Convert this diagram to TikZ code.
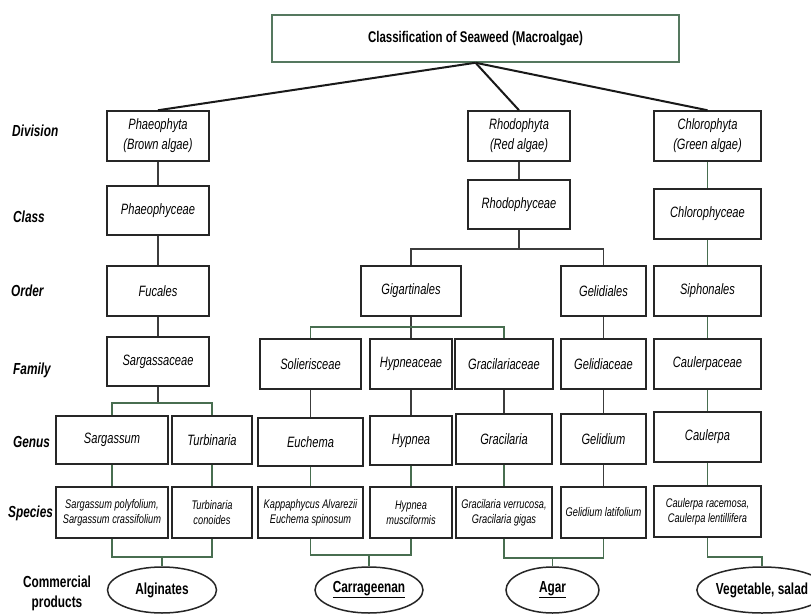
\documentclass[tikz,border=0pt]{standalone}
\usepackage{fontspec}
\setmainfont{Liberation Sans}[FakeStretch=0.74]
\usetikzlibrary{shapes.geometric,shadows}
\definecolor{linkgreen}{RGB}{72,110,80}
\definecolor{linkgray}{RGB}{60,60,60}
\definecolor{titleframe}{RGB}{85,120,95}

\begin{document}
\begin{tikzpicture}[x=1pt, y=-1pt,
    taxon/.style={draw=black!85, fill=white, line width=1.5pt, inner sep=0pt, align=center,
        minimum height=50pt, font=\fontsize{15}{20}\selectfont\itshape,
        drop shadow={shadow xshift=1.2pt, shadow yshift=-1.2pt, fill=black!40, opacity=1}},
    sppbox/.style={taxon, minimum height=51pt, font=\fontsize{12.5}{15}\selectfont\itshape},
    rank/.style={anchor=west, inner sep=0pt, font=\fontsize{16}{20}\selectfont\bfseries\itshape},
    product/.style={ellipse, draw=black!85, line width=1.5pt, inner sep=0pt,
        minimum height=46pt, font=\fontsize{16}{20}\selectfont\bfseries},
    link/.style={draw=linkgray, line width=1.2pt},
    greenlink/.style={draw=linkgreen, line width=1.2pt},
    trunk/.style={draw=black!90, line width=2pt}]

\path[use as bounding box, fill=white] (0,0) rectangle (811,613);

\node[draw=titleframe, line width=1.5pt, minimum width=407pt, minimum height=47pt,
    font=\fontsize{15.5}{18}\selectfont\bfseries] (seaweed) at (475.5,38.5)
    {Classification of Seaweed (Macroalgae)};

\node[rank] (rdivision) at (12,131) {Division};
\node[rank] (rclass) at (13,217) {Class};
\node[rank] (rorder) at (11,291) {Order};
\node[rank] (rfamily) at (13,370) {Family};
\node[rank] (rgenus) at (13,442) {Genus};
\node[rank] (rspecies) at (8,513) {Species};
\node[rank, anchor=center, align=center, font=\fontsize{16}{20}\selectfont\bfseries]
    (rproducts) at (57,593) {Commercial\\products};

\node[taxon, minimum width=102pt] (phaeophyta) at (158,136) {Phaeophyta\\(Brown algae)};
\node[taxon, minimum width=102pt] (rhodophyta) at (519,136) {Rhodophyta\\(Red algae)};
\node[taxon, minimum width=107pt] (chlorophyta) at (707.5,136) {Chlorophyta\\(Green algae)};

\node[taxon, minimum width=102pt, minimum height=49pt] (phaeophyceae) at (158,210.5) {Phaeophyceae};
\node[taxon, minimum width=102pt, minimum height=49pt] (rhodophyceae) at (519,204.5) {Rhodophyceae};
\node[taxon, minimum width=107pt] (chlorophyceae) at (707.5,214) {Chlorophyceae};

\node[taxon, minimum width=102pt] (fucales) at (158,291) {Fucales};
\node[taxon, minimum width=100pt] (gigartinales) at (411,291) {Gigartinales};
\node[taxon, minimum width=85pt] (gelidiales) at (603.5,291) {Gelidiales};
\node[taxon, minimum width=107pt] (siphonales) at (707.5,291) {Siphonales};

\node[taxon, minimum width=102pt, minimum height=49pt] (sargassaceae) at (158,361.5) {Sargassaceae};
\node[taxon, minimum width=101pt] (solierisceae) at (310.5,364) {Solierisceae};
\node[taxon, minimum width=82pt] (hypneaceae) at (411,364) {Hypneaceae};
\node[taxon, minimum width=98pt] (gracilariaceae) at (504,364) {Gracilariaceae};
\node[taxon, minimum width=85pt] (gelidiaceae) at (603.5,364) {Gelidiaceae};
\node[taxon, minimum width=107pt] (caulerpaceae) at (707.5,364) {Caulerpaceae};

\node[taxon, minimum width=112pt, minimum height=48pt] (sargassum) at (112,440) {Sargassum};
\node[taxon, minimum width=80pt, minimum height=48pt] (turbinaria) at (212,440) {Turbinaria};
\node[taxon, minimum width=105pt, minimum height=48pt] (euchema) at (310.5,442) {Euchema};
\node[taxon, minimum width=82pt, minimum height=49pt] (hypnea) at (411,440.5) {Hypnea};
\node[taxon, minimum width=96pt] (gracilaria) at (504,439) {Gracilaria};
\node[taxon, minimum width=85pt] (gelidium) at (603.5,439) {Gelidium};
\node[taxon, minimum width=107pt] (caulerpa) at (707.5,437) {Caulerpa};

\node[sppbox, minimum width=112pt] (sppsargassum) at (112,512.5) {Sargassum polyfolium,\\Sargassum crassifolium};
\node[sppbox, minimum width=80pt] (sppturbinaria) at (212,512.5) {Turbinaria\\conoides};
\node[sppbox, minimum width=105pt] (sppeuchema) at (310.5,512.5) {Kappaphycus Alvarezii\\Euchema spinosum};
\node[sppbox, minimum width=82pt] (spphypnea) at (411,512.5) {Hypnea\\musciformis};
\node[sppbox, minimum width=96pt] (sppgracilaria) at (504,512.5) {Gracilaria verrucosa,\\Gracilaria gigas};
\node[sppbox, minimum width=85pt] (sppgelidium) at (603.5,512.5) {Gelidium latifolium};
\node[sppbox, minimum width=107pt] (sppcaulerpa) at (707.5,511.5) {Caulerpa racemosa,\\Caulerpa lentillifera};

\node[product, minimum width=109pt] (alginates) at (162,590) {Alginates};
\node[product, minimum width=108pt] (carrageenan) at (369,590) {\underline{Carrageenan}};
\node[product, minimum width=93pt] (agar) at (552.5,590) {\underline{Agar}};
\node[product, minimum width=102pt] (vegetable) at (762,590) {Vegetable, salad};

\coordinate (sargjoin) at (158,403);
\coordinate (rhodjoin) at (519,249);
\coordinate (gigjoin) at (411,327);
\coordinate (algjoin) at (162,557);
\coordinate (carjoin) at (369,555);
\coordinate (agarjoin) at (552.5,558);
\coordinate (vegjoin) at (762,557);

\draw[trunk] (seaweed.south) -- (phaeophyta.north);
\draw[trunk] (seaweed.south) -- (rhodophyta.north);
\draw[trunk] (seaweed.south) -- (chlorophyta.north);

\draw[link] (phaeophyta) -- (phaeophyceae) -- (fucales) -- (sargassaceae) -- (sargjoin);
\draw[greenlink] (sargassum.north) |- (sargjoin) -| (turbinaria.north);
\draw[link] (rhodophyta) -- (rhodophyceae) -- (rhodjoin);
\draw[link] (gigartinales.north) |- (rhodjoin) -| (gelidiales.north);
\draw[link] (gigartinales) -- (gigjoin) -- (hypneaceae);
\draw[greenlink] (solierisceae.north) |- (gigjoin) -| (gracilariaceae.north);
\draw[link] (solierisceae) -- (euchema);
\draw[link] (hypneaceae) -- (hypnea);
\draw[link] (gracilariaceae) -- (gracilaria);
\draw[link] (gelidiales) -- (gelidiaceae) -- (gelidium) -- (sppgelidium);
\draw[greenlink] (chlorophyta) -- (chlorophyceae) -- (siphonales) -- (caulerpaceae) -- (caulerpa) -- (sppcaulerpa);
\foreach \g in {sargassum,turbinaria,euchema,hypnea,gracilaria}
    \draw[greenlink] (\g) -- (spp\g);

\draw[greenlink] (sppsargassum.south) |- (algjoin) -| (sppturbinaria.south);
\draw[greenlink] (algjoin) -- (alginates);
\draw[greenlink] (sppeuchema.south) |- (carjoin) -| (spphypnea.south);
\draw[greenlink] (carjoin) -- (carrageenan);
\draw[greenlink] (sppgracilaria.south) |- (agarjoin) -| (sppgelidium.south);
\draw[greenlink] (agarjoin) -- (agar);
\draw[greenlink] (sppcaulerpa.south) |- (vegjoin) -- (vegetable);

\end{tikzpicture}
\end{document}
